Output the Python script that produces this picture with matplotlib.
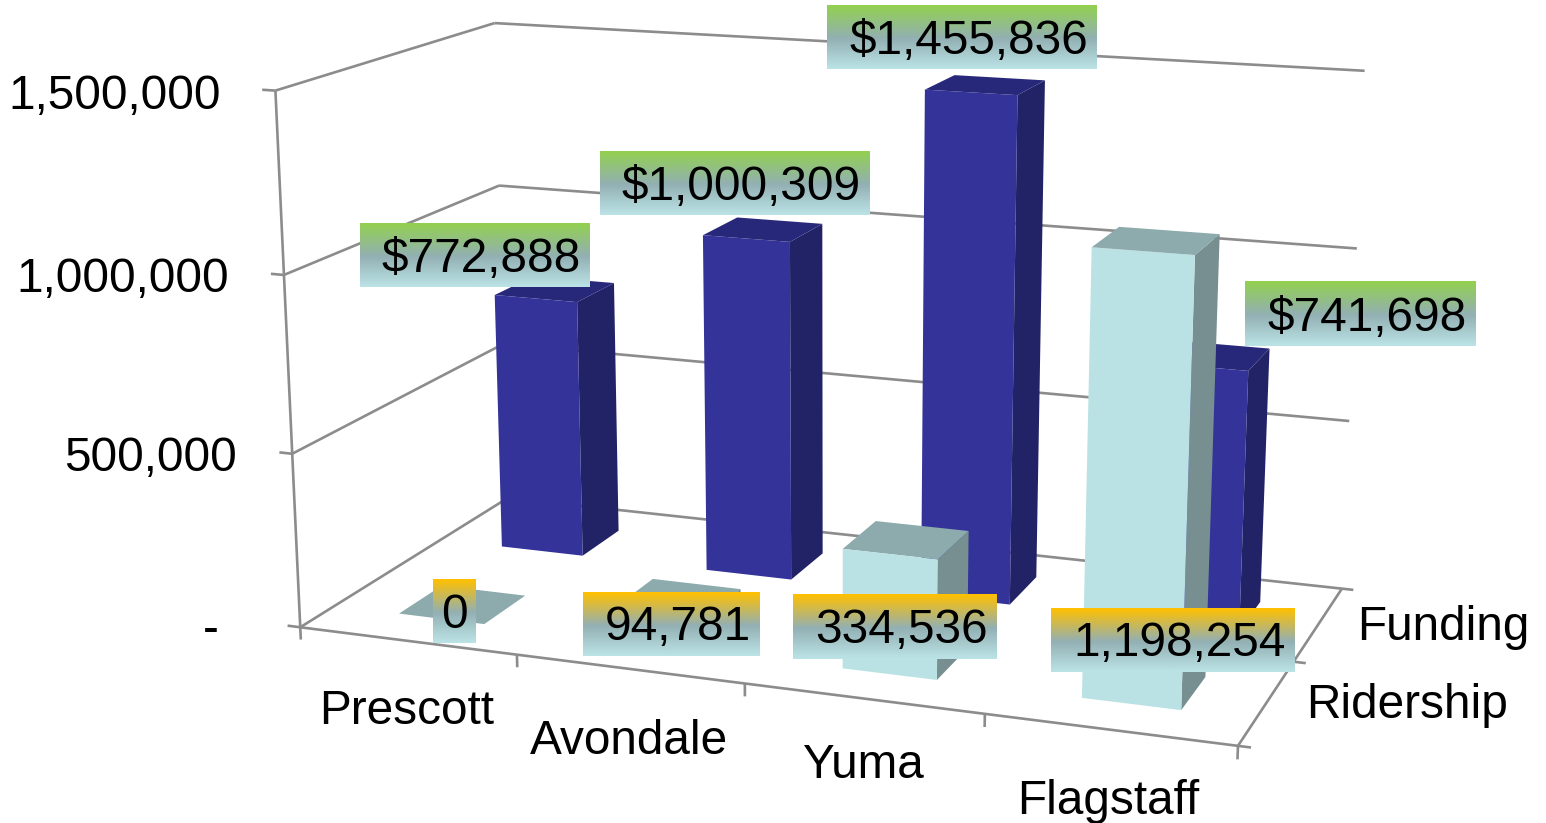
import numpy as np
import matplotlib
matplotlib.use("Agg")
import matplotlib.pyplot as plt
from mpl_toolkits.mplot3d import Axes3D  # noqa
from mpl_toolkits.mplot3d.art3d import Line3DCollection

plt.rcParams['font.family'] = ['Liberation Sans', 'DejaVu Sans']

# ---- data ----
categories = ["Prescott", "Avondale", "Yuma", "Flagstaff"]
series_names = ["Ridership", "Funding"]
ridership = [0, 94781, 334536, 1198254]
funding = [772888, 1000309, 1455836, 741698]
value_ticks = [0, 500000, 1000000, 1500000]

W, H = 1546, 823
FS = 34.4

# ---- camera: perspective calibrated on the chart's box corners ----
calib = [
    ((0, 0, 0), (300, 627)), ((4, 0, 0), (1240, 746)), ((4, 2, 0), (1341, 588)),
    ((0, 2, 0), (510, 500)), ((0, 0, 1.5e6), (276.5, 92)), ((0, 2, 1.5e6), (494, 22)),
    ((4, 2, 1.5e6), (1365, 72)), ((4, 2, 1e6), (1357, 248)), ((4, 2, 5e5), (1349, 421)),
    ((0, 2, 1e6), (498, 184.5)), ((0, 0, 1e6), (284, 275)), ((0, 0, 5e5), (292, 453)),
    ((1, 0, 0), (516, 654.5)), ((2, 0, 0), (744, 683)), ((3, 0, 0), (984, 714)),
]
A, b = [], []
for (cx, cy, cz), (px, py) in calib:
    cz = cz / 1e6
    A.append([cx, cy, cz, 1, 0, 0, 0, 0, -px * cx, -px * cy, -px * cz]); b.append(px)
    A.append([0, 0, 0, 0, cx, cy, cz, 1, -py * cx, -py * cy, -py * cz]); b.append(py)
p = np.linalg.lstsq(np.array(A, float), np.array(b, float), rcond=None)[0]
S = np.diag([1, 1, 1e-6, 1.0])
row_x, row_y, row_w = np.r_[p[:4]], np.r_[p[4:8]], np.r_[p[8:11], 1.0]
M = np.array([row_x, row_y, [0, 0, 0, -1.0], row_w]) @ S

fig = plt.figure(figsize=(W / 100, H / 100), dpi=100, facecolor='white')
ax = fig.add_axes([0, 0, 1, 1], projection='3d', computed_zorder=False)
ax.set_axis_off()
ax.patch.set_alpha(0)
ax.get_proj = lambda: M
ax.apply_aspect = lambda position=None: None

# ---- frame and gridlines ----
GRID = '#8c8c8c'
LW = 1.9
segs = []
top = value_ticks[-1]
for v in value_ticks:
    segs.append([(0, 0, v), (0, 2, v)])
    segs.append([(0, 2, v), (4, 2, v)])
    segs.append([(0, 0, v), (-0.06, 0, v)])
segs.append([(0, 0, 0), (0, 0, top)])
segs.append([(0, 0, 0), (4, 0, 0)])
segs.append([(4, 0, 0), (4, 2, 0)])
for i in range(len(series_names) + 1):
    segs.append([(4, i, 0), (4.05, i, 0)])
for i in range(len(categories) + 1):
    segs.append([(i, 0, 0), (i, 0, -36000)])
ax.add_collection3d(Line3DCollection(segs, colors=GRID, linewidths=LW, zorder=1))

# ---- bars ----
BAR_W, BAR_D = 0.40, 0.40
X_CENTER_SHIFT = 0.006
NONE = (0, 0, 0, 0)
def face_cols(front, side, upper):
    # bottom, top, -y, +y, -x, +x
    return [NONE, upper, front, NONE, NONE, side]

series_vals = [ridership, funding]
series_cols = [('#bae2e4', '#778f91', '#8daaad'), ('#333399', '#222266', '#28287a')]
for j in (1, 0):
    for i, v in enumerate(series_vals[j]):
        ax.bar3d(i + 0.5 + X_CENTER_SHIFT - BAR_W / 2, j + 0.5 - BAR_D / 2, 0, BAR_W, BAR_D, v,
                 color=face_cols(*series_cols[j]), shade=False, linewidth=0,
                 zorder=3 - j + 0.01 * i)

ax.viewLim.intervalx = (0, W)
ax.viewLim.intervaly = (H, 0)

# ---- text layer ----
ov = fig.add_axes([0, 0, 1, 1], facecolor='none')
ov.set_xlim(0, W); ov.set_ylim(H, 0); ov.axis('off')

tick_pos = [(218, 631), (236, 458), (229, 279), (220, 96)]
for v, (x, y) in zip(value_ticks, tick_pos):
    ov.text(x + 0.5, y, f"{v:,}" if v else "-", ha='right', va='center', fontsize=FS, color='black')

cat_pos = [(407, 711), (629, 741), (863, 766), (1108, 801)]
for c, (x, y) in zip(categories, cat_pos):
    ov.text(x, y, c, ha='center', va='center', fontsize=FS, color='black')

ser_pos = [(1306, 706), (1357, 628)]
for s, (x, y) in zip(series_names, ser_pos):
    ov.text(x, y, s, ha='left', va='center', fontsize=FS, color='black')

def grad(top_col):
    c0 = np.array(matplotlib.colors.to_rgb(top_col))
    c1 = np.array(matplotlib.colors.to_rgb('#93b0b3'))
    c2 = np.array(matplotlib.colors.to_rgb('#bbe3e6'))
    t = np.linspace(0, 1, 64)[:, None]
    g = np.where(t < 0.52, c0 + (c1 - c0) * t / 0.52, c1 + (c2 - c1) * (t - 0.52) / 0.48)
    return g[:, None, :]

fund_boxes = [(360, 590, 223, 287), (600, 870, 151, 215), (827, 1097, 5, 69), (1245, 1476, 282, 346)]
rid_boxes = [(433, 476, 579, 643), (583, 760, 592, 656), (793, 997, 594, 659), (1051, 1295, 608, 672)]
for vals, boxes, col, fmt in ((funding, fund_boxes, '#92d050', "${:,}"), (ridership, rid_boxes, '#ffc000', "{:,}")):
    for v, (x0, x1, y0, y1) in zip(vals, boxes):
        ov.imshow(grad(col), extent=(x0, x1, y1, y0), aspect='auto', zorder=5, interpolation='bilinear')
        off = 6.5 if v else 0
        ov.text((x0 + x1) / 2 + off, (y0 + y1) / 2 + 4, fmt.format(v), ha='center', va='center',
                fontsize=FS, color='black', zorder=6)
ov.set_xlim(0, W); ov.set_ylim(H, 0)

fig.savefig('out.png', dpi=100)
